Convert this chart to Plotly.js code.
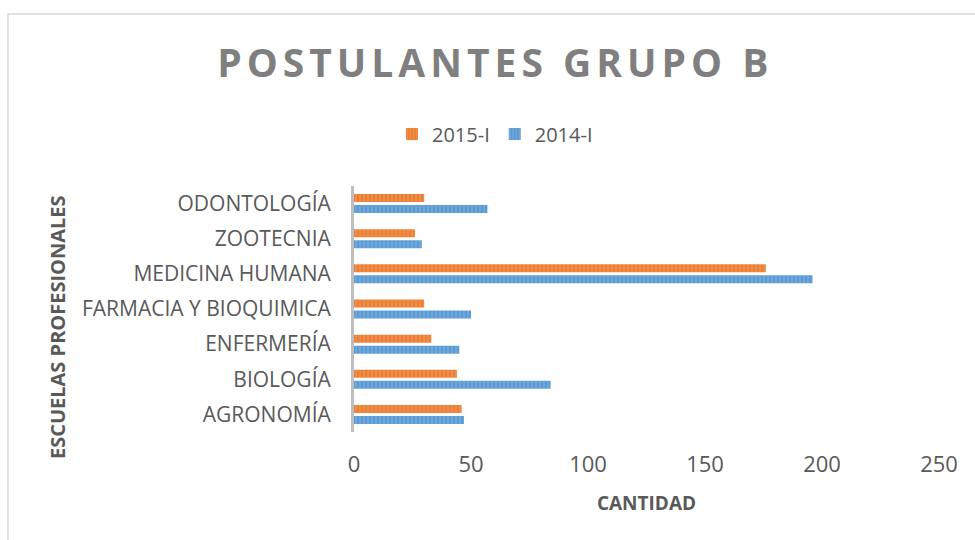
<!DOCTYPE html>
<html>
<head>
<meta charset="utf-8">
<script src="https://cdn.plot.ly/plotly-3.0.1.min.js"></script>
<style>
  html, body { margin: 0; padding: 0; background: #ffffff; }
  #chart { width: 975px; height: 540px; }
  .gtitle { letter-spacing: 5px; }
</style>
</head>
<body>
<div id="chart"></div>
<script>
// Categories (bottom to top as drawn)
const categories = ['AGRONOMÍA', 'BIOLOGÍA', 'ENFERMERÍA', 'FARMACIA Y BIOQUIMICA', 'MEDICINA HUMANA', 'ZOOTECNIA', 'ODONTOLOGÍA'];
// Series values
const values2014 = [47, 84, 45, 50, 196, 29, 57];
const values2015 = [46, 44, 33, 30, 176, 26, 30];
// Series names
const seriesNames = ['2014-I', '2015-I'];
// Tick values on the value axis
const xTicks = [0, 50, 100, 150, 200, 250];

const FONT = 'Open Sans, sans-serif';
const TXT = '#595959';

const traces = [
  {
    type: 'bar', orientation: 'h', name: seriesNames[0],
    y: categories, x: values2014,
    marker: {
      color: '#5B9BD5',
      line: { width: 0 },
      pattern: { shape: '|', size: 4, solidity: 0.3, fgcolor: '#9DC3E6', bgcolor: '#5B9BD5', fillmode: 'overlay' }
    },
    hoverinfo: 'x+y+name'
  },
  {
    type: 'bar', orientation: 'h', name: seriesNames[1],
    y: categories, x: values2015,
    marker: {
      color: '#ED7D31',
      line: { width: 0 },
      pattern: { shape: '|', size: 4, solidity: 0.3, fgcolor: '#F4B183', bgcolor: '#ED7D31', fillmode: 'overlay' }
    },
    hoverinfo: 'x+y+name'
  }
];

const layout = {
  width: 975, height: 540,
  margin: { l: 354, r: 36, t: 186, b: 108, pad: 0 },
  paper_bgcolor: '#ffffff', plot_bgcolor: '#ffffff',
  font: { family: FONT, color: TXT },
  barmode: 'group',
  bargap: 0.374,
  bargroupgap: 0.27,
  title: {
    text: 'POSTULANTES GRUPO B',
    x: 0.508, xanchor: 'center', xref: 'container',
    y: 0.883, yanchor: 'middle', yref: 'container',
    font: { family: FONT, size: 39, weight: 700, color: '#7F7F7F' }
  },
  legend: {
    orientation: 'h', traceorder: 'reversed',
    x: 0.241, xanchor: 'center', y: 1.211, yanchor: 'middle',
    font: { family: FONT, size: 20, color: TXT },
    itemwidth: 30, bgcolor: 'rgba(0,0,0,0)'
  },
  xaxis: {
    range: [0, 250], tickvals: xTicks, ticktext: xTicks.map(String),
    showgrid: false, zeroline: false, showline: false, ticks: '',
    ticklabelstandoff: 17,
    tickfont: { family: FONT, size: 22, color: TXT },
    title: { text: 'CANTIDAD', standoff: 19, font: { family: FONT, size: 19, weight: 700, color: TXT } },
    fixedrange: true
  },
  yaxis: {
    type: 'category', categoryorder: 'array', categoryarray: categories,
    showgrid: false, zeroline: false, showline: true, linecolor: '#BFBFBF', linewidth: 3,
    ticks: '', ticklabelstandoff: 16,
    tickfont: { family: FONT, size: 21, color: TXT },
    fixedrange: true
  },
  annotations: [
    {
      text: 'ESCUELAS PROFESIONALES', xref: 'paper', yref: 'paper',
      x: -0.5077, y: 0.4268, xanchor: 'center', yanchor: 'middle',
      textangle: -90, showarrow: false,
      font: { family: FONT, size: 20, weight: 700, color: TXT }
    }
  ],
  shapes: [
    {
      type: 'rect', xref: 'paper', yref: 'paper',
      x0: -0.5915, x1: 1.09, y0: 1.699, y1: -0.55,
      line: { color: '#D9D9D9', width: 1.5 }, fillcolor: 'rgba(0,0,0,0)', layer: 'below'
    }
  ],
  showlegend: true
};

Plotly.newPlot('chart', traces, layout, { displayModeBar: false, staticPlot: true });
</script>
</body>
</html>
